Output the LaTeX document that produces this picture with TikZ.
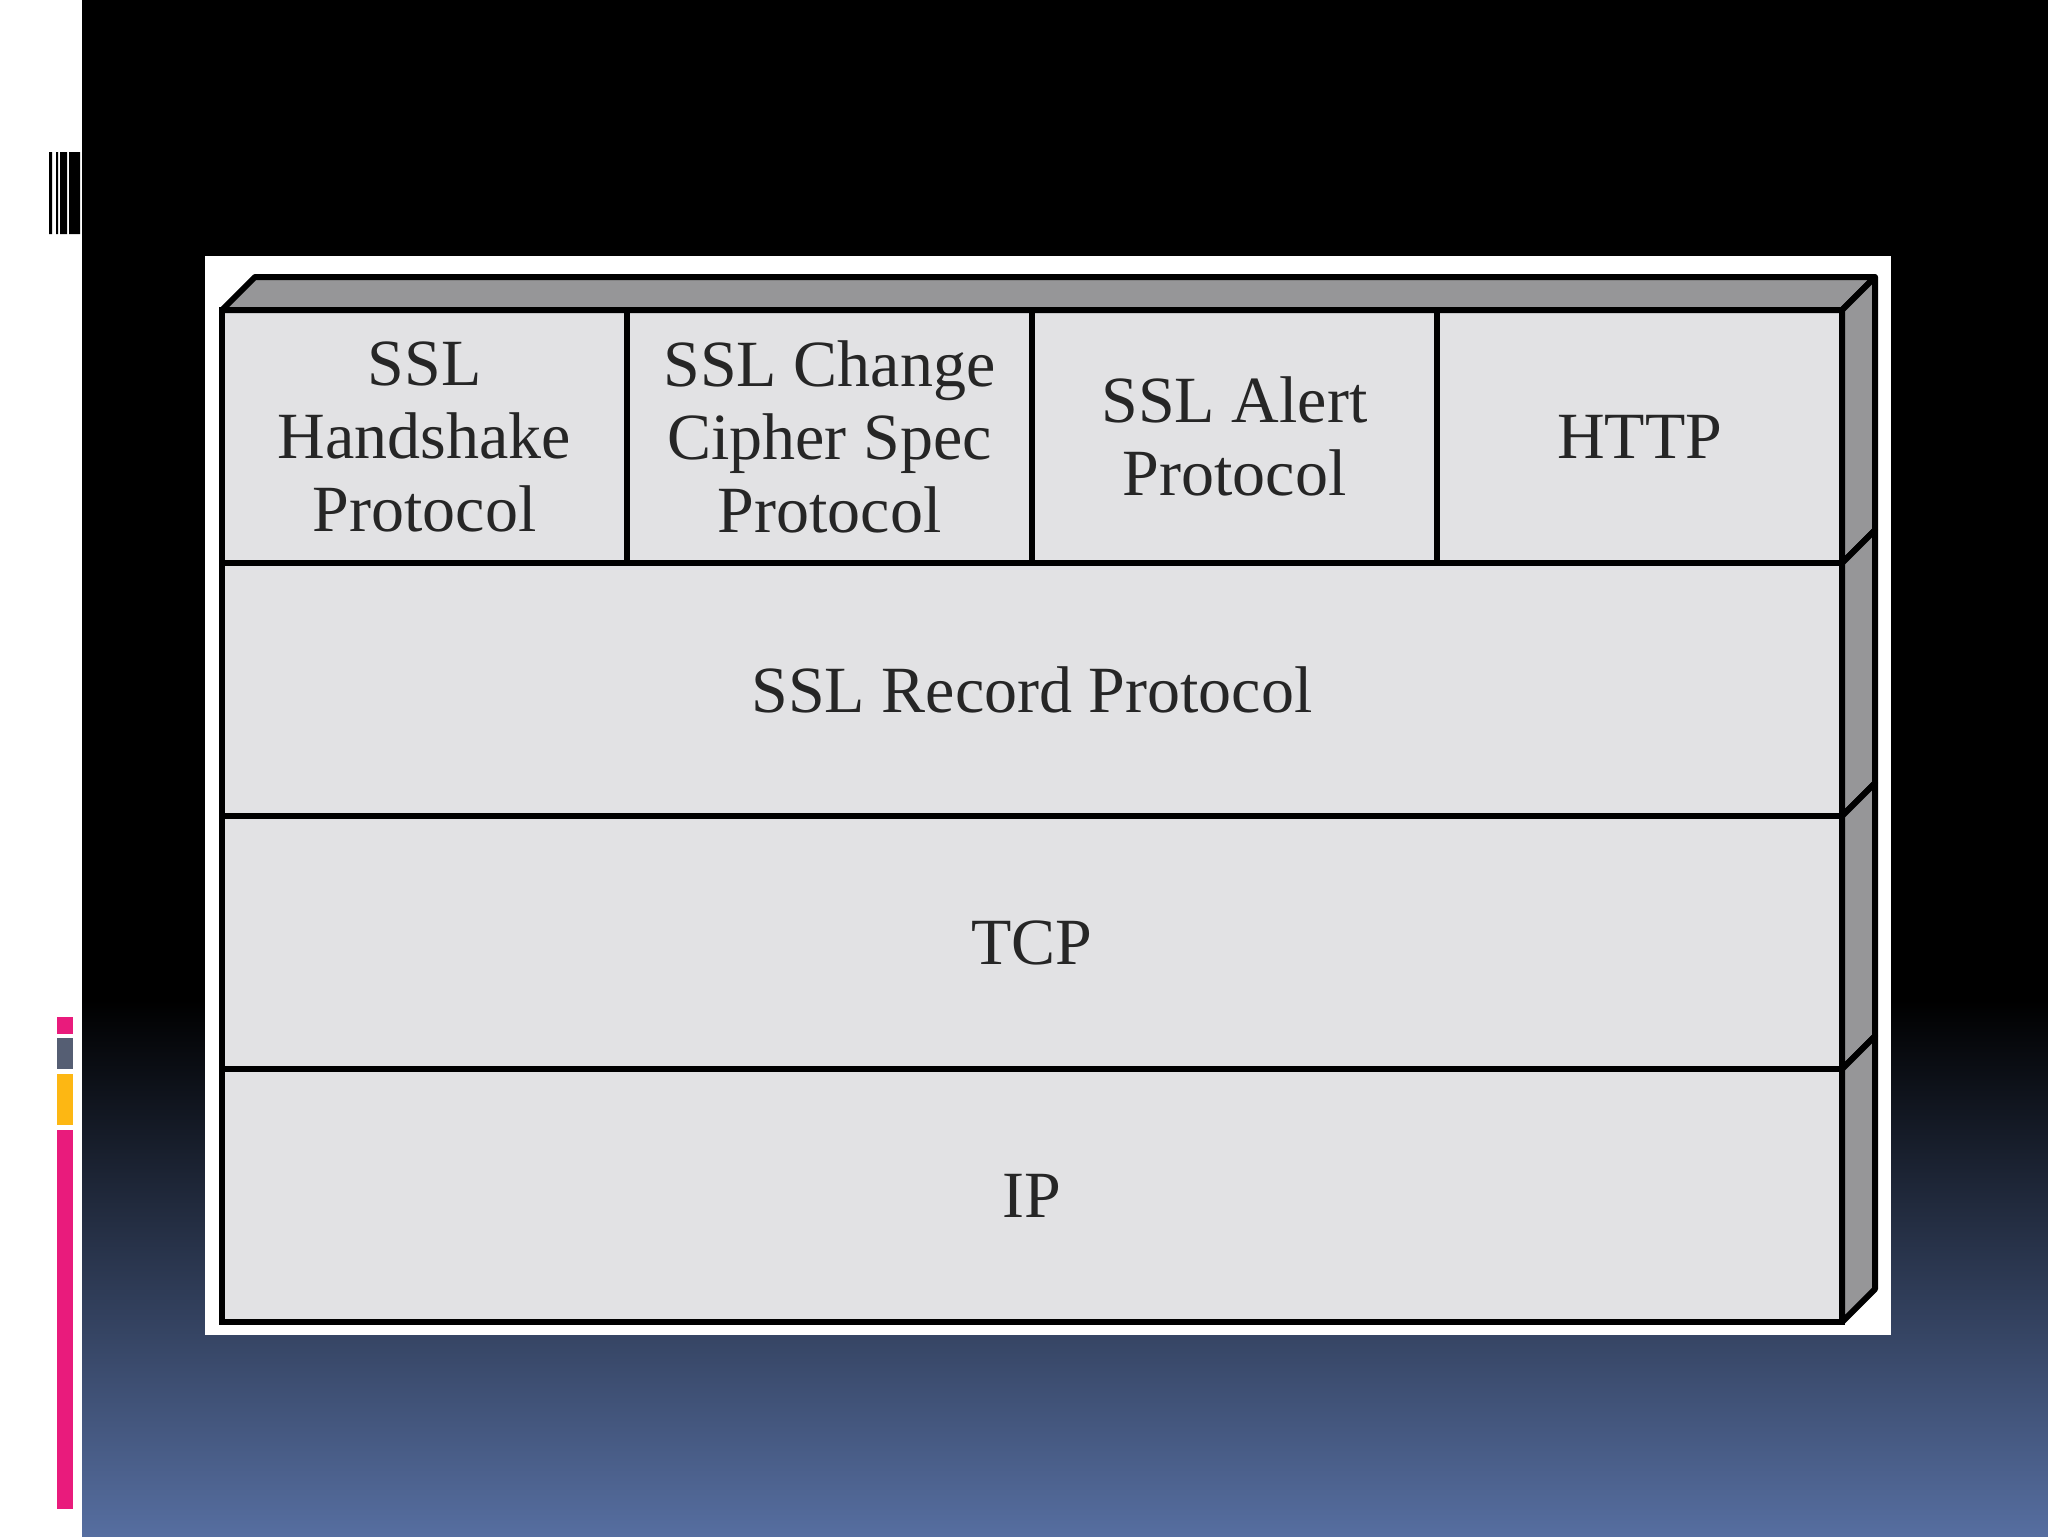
\documentclass[tikz,border=0pt]{standalone}
\usepackage{fontspec}
\setmainfont{Liberation Serif}
\usetikzlibrary{calc,positioning}
\definecolor{cellgray}{RGB}{226,226,228}
\definecolor{facegray}{RGB}{150,150,152}
\definecolor{slideblue}{RGB}{86,110,160}
\definecolor{barpink}{RGB}{233,27,124}
\definecolor{barslate}{RGB}{85,94,115}
\definecolor{bargold}{RGB}{253,183,19}

\begin{document}
\begin{tikzpicture}[
  x=0.5pt, y=-0.5pt,
  protocell/.style={draw,line width=3pt,fill=cellgray,inner sep=0pt,outer sep=0pt,
    minimum width=202.5pt,minimum height=126.5pt,align=center,text=black!85,
    font=\fontsize{33pt}{36.5pt}\selectfont},
  layerbox/.style={protocell,minimum width=810pt},
  face/.style={draw,line width=3pt,fill=facegray,line join=round},
  ]
  \useasboundingbox (0,0) rectangle (2048,1536);
  % slide background
  \fill[white] (0,0) rectangle (82,1536);
  \fill[black] (82,0) rectangle (2048,1000);
  \shade[top color=black,bottom color=slideblue] (82,1000) rectangle (2048,1536);
  \fill[black] (49,152) rectangle (52,234) (56,152) rectangle (58,234)
    (60,152) rectangle (67,234) (69,152) rectangle (80,234);
  \fill[barpink] (57,1017) rectangle (73,1034);
  \fill[barslate] (57,1038) rectangle (73,1069);
  \fill[bargold] (57,1074) rectangle (73,1125);
  \fill[barpink] (57,1130) rectangle (73,1509);
  \fill[white] (205,256) rectangle (1891,1335);
  % protocol stack
  \node[protocell,anchor=north west] (hs) at (222,310) {SSL\\Handshake\\Protocol};
  \node[protocell,right=0pt of hs] (ccs) {SSL Change\\Cipher Spec\\Protocol};
  \node[protocell,right=0pt of ccs] (al) {SSL Alert\\Protocol};
  \node[protocell,right=0pt of al] (ht) {HTTP};
  \node[layerbox,anchor=north west] (rec) at (hs.south west) {SSL Record Protocol};
  \node[layerbox,anchor=north west] (tcp) at (rec.south west) {TCP};
  \node[layerbox,anchor=north west] (ip) at (tcp.south west) {IP};
  \draw[face] (hs.north west) -- ++(33,-33) -- ($(ht.north east)+(33,-33)$)
    -- (ht.north east) -- cycle;
  \foreach \n in {ht,rec,tcp,ip}
    \draw[face] (\n.north east) -- ++(33,-33) -- ($(\n.south east)+(33,-33)$)
      -- (\n.south east) -- cycle;
\end{tikzpicture}
\end{document}
